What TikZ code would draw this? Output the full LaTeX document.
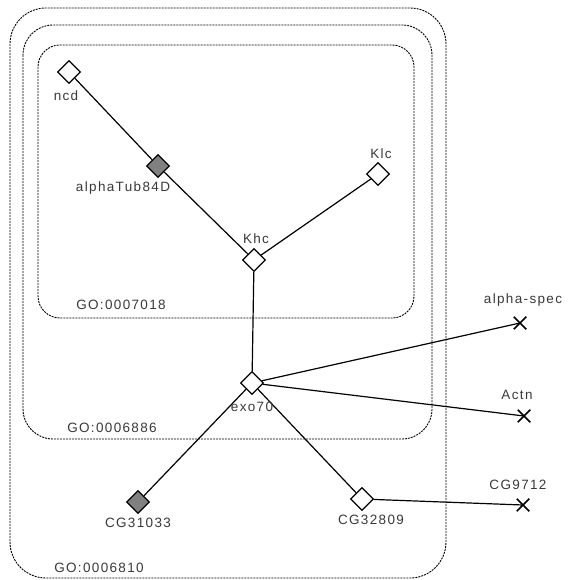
\documentclass[tikz,border=0pt]{standalone}
\usepackage{fontspec}
\setmainfont{Liberation Sans}[LetterSpace=10]
\usetikzlibrary{shapes.geometric,shapes.misc}
\definecolor{txt}{HTML}{3A3A3A}
\definecolor{gfill}{HTML}{808080}
\tikzset{
  gobox/.style={draw=black,line width=0.9pt,dash pattern=on 2pt off 1pt},
  gene/.style={diamond,draw=black,fill=white,line width=1.3pt,minimum width=23pt,minimum height=23pt,inner sep=0pt},
  hit/.style={gene,fill=gfill},
  ext/.style={cross out,draw=black,line width=1.5pt,minimum width=11pt,minimum height=11pt,inner sep=0pt},
  lbl/.style={text=txt,font=\fontsize{13.5}{15}\selectfont,inner sep=0pt},
  link/.style={draw=black,line width=1.2pt}
}
\begin{document}
\begin{tikzpicture}[x=1pt,y=-1pt]
\useasboundingbox (0,0) rectangle (567,580);
\fill[white] (0,0) rectangle (567,580);
% GO boxes
\draw[gobox,rounded corners=36pt] (10,8) rectangle (446,578);
\draw[gobox,rounded corners=30pt] (23,25) rectangle (432,439);
\draw[gobox,rounded corners=22pt] (38,45) rectangle (414,318);
\node[lbl] (go1) at (121,305) {GO:0007018};
\node[lbl] (go2) at (112,428) {GO:0006886};
\node[lbl] (go3) at (99,568) {GO:0006810};
% nodes
\node[gene] (ncd) at (69,72) {};
\node[hit] (atub) at (158,166) {};
\node[gene] (khc) at (254,260) {};
\node[gene] (klc) at (378,174) {};
\node[gene] (exo) at (252,383) {};
\node[hit] (cg31) at (138,502) {};
\node[gene] (cg32) at (362,499) {};
\node[ext] (aspec) at (520,323) {};
\node[ext] (actn) at (524,416) {};
\node[ext] (cg97) at (523,505) {};
% edges
\path[link] (ncd) -- (atub);
\path[link] (atub) -- (khc);
\path[link] (khc) -- (klc);
\path[link] (khc) -- (exo);
\path[link] (exo) -- (aspec.center);
\path[link] (exo) -- (actn.center);
\path[link] (exo) -- (cg31);
\path[link] (exo) -- (cg32);
\path[link] (cg32) -- (cg97.center);
% labels
\node[lbl] (l1) at (66,96) {ncd};
\node[lbl] (l2) at (123,188) {alphaTub84D};
\node[lbl] (l3) at (256,239) {Khc};
\node[lbl] (l4) at (381,154) {Klc};
\node[lbl] (l5) at (252,407) {exo70};
\node[lbl] (l6) at (138,523) {CG31033};
\node[lbl] (l7) at (371,520) {CG32809};
\node[lbl] (l8) at (523,300) {alpha-spec};
\node[lbl] (l9) at (517,395) {Actn};
\node[lbl] (l10) at (518,485) {CG9712};
\end{tikzpicture}
\end{document}
